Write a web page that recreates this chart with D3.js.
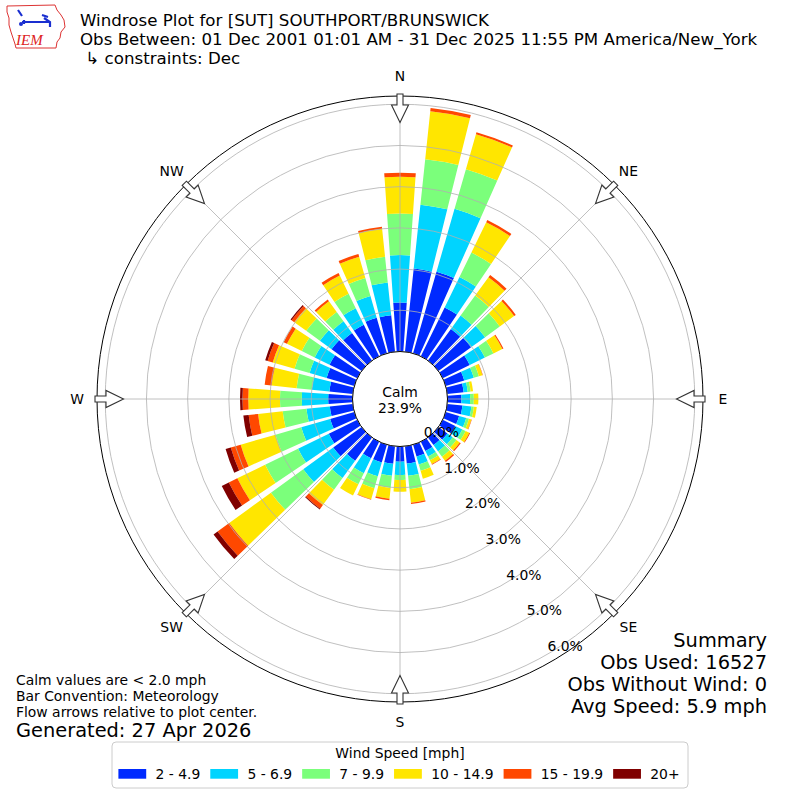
<!DOCTYPE html>
<html><head><meta charset="utf-8">
<script src="https://cdn.jsdelivr.net/npm/d3@7"></script>
<style>
body{margin:0;background:#fff;}
text{font-family:"DejaVu Sans",sans-serif;fill:#000;white-space:pre;}
</style>
</head><body>
<svg id="chart" width="800" height="800"></svg>
<script>
// ---------------- data ----------------
const directions = [0,10,20,30,40,50,60,70,80,90,100,110,120,130,140,150,160,170,
                    180,190,200,210,220,230,240,250,260,270,280,290,300,310,320,330,340,350];
const speedBins = ["2 - 4.9","5 - 6.9","7 - 9.9","10 - 14.9","15 - 19.9","20+"];
const binColors = ["#002aff","#00d4ff","#7bff7b","#ffe600","#ff4800","#800000"];
// percent of observations per direction for each speed bin
const speed2to5   = [1.19,2.03,2.06,1.32,0.95,0.98,0.73,0.47,0.40,0.34,0.37,0.34,0.34,0.27,0.23,0.25,0.30,0.42,
                     0.37,0.43,0.45,0.45,0.70,0.85,0.77,0.61,0.56,0.59,0.57,0.70,0.75,0.90,0.83,0.85,0.90,0.89];
const speed5to7   = [1.15,1.56,1.59,0.82,0.40,0.42,0.41,0.24,0.10,0.21,0.22,0.18,0.19,0.16,0.19,0.15,0.20,0.30,
                     0.32,0.29,0.35,0.40,0.52,0.90,0.83,0.73,0.57,0.64,0.43,0.43,0.40,0.35,0.35,0.45,0.55,0.80];
const speed7to10  = [1.01,1.11,1.00,0.66,0.60,0.44,0.23,0.13,0.07,0.09,0.06,0.07,0.09,0.11,0.16,0.10,0.16,0.33,
                     0.12,0.30,0.30,0.30,0.35,0.97,0.89,0.65,0.58,0.53,0.37,0.38,0.35,0.41,0.28,0.39,0.45,0.63];
const speed10to15 = [0.89,1.17,0.88,0.82,0.55,0.43,0.24,0.09,0.06,0.11,0.07,0.06,0.10,0.10,0.12,0.10,0.20,0.33,
                     0.29,0.26,0.28,0.30,0.46,1.25,0.75,0.88,0.60,0.77,0.61,0.55,0.40,0.36,0.32,0.49,0.54,0.68];
const speed15to20 = [0.10,0.08,0.05,0.06,0.07,0.05,0.03,0.01,0.00,0.00,0.00,0.01,0.02,0.03,0.04,0.02,0.00,0.03,
                     0.00,0.04,0.01,0.00,0.11,0.35,0.23,0.25,0.23,0.14,0.17,0.13,0.09,0.08,0.05,0.07,0.07,0.05];
const speed20plus = [0,0,0,0,0,0,0,0,0,0,0,0,0,0,0,0,0,0,
                     0,0,0,0,0.02,0.12,0.19,0.13,0.13,0.06,0,0.06,0,0.03,0,0,0,0];
const radialTicks = [0,1,2,3,4,5,6];
const compass = [["N",0],["NE",45],["E",90],["SE",135],["S",180],["SW",225],["W",270],["NW",315]];
const calmPct = "23.9%";
const titleLines = ["Windrose Plot for [SUT] SOUTHPORT/BRUNSWICK",
  "Obs Between: 01 Dec 2001 01:01 AM - 31 Dec 2025 11:55 PM America/New_York",
  " \u21b3 constraints: Dec"];
const summaryLines = ["Summary","Obs Used: 16527","Obs Without Wind: 0","Avg Speed: 5.9 mph"];
const noteLines = ["Calm values are < 2.0 mph","Bar Convention: Meteorology","Flow arrows relative to plot center."];
const generatedText = "Generated: 27 Apr 2026";

// ---------------- layout ----------------
const svg = d3.select("#chart");
const cx = 400, cy = 399;
const rMaxPct = 6.2;
const r = d3.scaleLinear().domain([0, rMaxPct]).range([47.5, 303]);
const ang = d3.scaleLinear().domain([0, 360]).range([0, 2*Math.PI]);
const halfW = ang(4);

const series = [speed2to5, speed5to7, speed7to10, speed10to15, speed15to20, speed20plus];
const rows = directions.map((d,i)=>{const o={dir:d}; speedBins.forEach((b,j)=>o[b]=series[j][i]); return o;});
const stacked = d3.stack().keys(speedBins)(rows);

const g = svg.append("g").attr("transform",`translate(${cx},${cy})`);

// bars
const arc = d3.arc()
  .innerRadius(d=>r(d[0])).outerRadius(d=>r(d[1]))
  .startAngle(d=>ang(d.data.dir)-halfW).endAngle(d=>ang(d.data.dir)+halfW);
stacked.forEach((s,j)=>{
  g.append("g").selectAll("path").data(s.filter(d=>d[1]-d[0]>0)).join("path")
    .attr("d",arc).attr("fill",binColors[j]);
});

// grid
const grid = g.append("g").attr("fill","none").attr("stroke","#b0b0b0").attr("stroke-width",0.8);
grid.selectAll("circle").data(radialTicks).join("circle").attr("r",d=>r(d));
grid.selectAll("line").data(compass).join("line")
  .attr("x1",0).attr("y1",0)
  .attr("x2",d=>r(rMaxPct)*Math.sin(ang(d[1])))
  .attr("y2",d=>-r(rMaxPct)*Math.cos(ang(d[1])));

// outer spine
g.append("circle").attr("r",r(rMaxPct)).attr("fill","none").attr("stroke","#000").attr("stroke-width",1);

// calm circle
g.append("circle").attr("r",r(0)).attr("fill","#fff").attr("stroke","#000").attr("stroke-width",1);
g.append("text").attr("text-anchor","middle").attr("y",-2).attr("font-size",13.9).text("Calm");
g.append("text").attr("text-anchor","middle").attr("y",14).attr("font-size",13.9).text(calmPct);

// radial labels along bearing 150
const lab = ang(150);
g.append("g").selectAll("text").data(radialTicks).join("text")
  .attr("x",d=>r(d)*Math.sin(lab))
  .attr("y",d=>-r(d)*Math.cos(lab)-3.3)
  .attr("font-size",13.9)
  .text(d=>d.toFixed(1)+"%");

// compass labels
g.append("g").selectAll("text").data(compass).join("text")
  .attr("x",d=>323*Math.sin(ang(d[1])))
  .attr("y",d=>-323*Math.cos(ang(d[1])))
  .attr("text-anchor","middle").attr("dominant-baseline","central")
  .attr("font-size",13.9).text(d=>d[0]);

// flow arrows
const arrowShape = [[-3,305],[3,305],[3,294],[8.5,294],[0,276.5],[-8.5,294],[-3,294]];
g.append("g").selectAll("polygon").data(compass).join("polygon")
  .attr("points",d=>{const t=ang(d[1]);return arrowShape.map(([x,rr])=>
    [rr*Math.sin(t)+x*Math.cos(t), -rr*Math.cos(t)+x*Math.sin(t)].join(",")).join(" ");})
  .attr("fill","#fff").attr("stroke","#333").attr("stroke-width",1.1);

// titles
svg.append("g").selectAll("text").data(titleLines).join("text")
  .attr("x",80).attr("y",(d,i)=>25.5+i*19).attr("font-size",16.67).text(d=>d);

// summary
svg.append("g").selectAll("text").data(summaryLines).join("text")
  .attr("x",767).attr("y",(d,i)=>647+i*22).attr("text-anchor","end").attr("font-size",19.4).text(d=>d);

// notes
svg.append("g").selectAll("text").data(noteLines).join("text")
  .attr("x",16).attr("y",(d,i)=>685+i*16).attr("font-size",13.9).text(d=>d);
svg.append("text").attr("x",16).attr("y",737).attr("font-size",19.4).text(generatedText);

// legend
const lg = svg.append("g");
lg.append("rect").attr("x",112).attr("y",742).attr("width",576).attr("height",46).attr("rx",4)
  .attr("fill","#fff").attr("stroke","#cccccc").attr("stroke-width",1);
lg.append("text").attr("x",400).attr("y",757.5).attr("text-anchor","middle").attr("font-size",13.9).text("Wind Speed [mph]");
let lx = 118.4;
speedBins.forEach((b,j)=>{
  lg.append("rect").attr("x",lx).attr("y",769).attr("width",27.8).attr("height",9.7).attr("fill",binColors[j]);
  const t = lg.append("text").attr("x",lx+37.1).attr("y",779).attr("font-size",13.9).text(b);
  lx = lx + 37.1 + t.node().getComputedTextLength() + 10;
});

// logo
const logo = svg.append("g");
logo.append("path").attr("d","M7,6 L55,5 L57,10 L61,15 L64,20 L65,27 L61,32 L60,38 L57,42 L56,48 L16,48 L15,44 L13,38 L11,32 L9,25 L9,18 L7,12 Z")
  .attr("fill","#fff").attr("stroke","#d33").attr("stroke-width",1);
logo.append("path").attr("d","M22,22 L50,22 M24,20 L24,24 M44,18 L50,22 L50,27 M18,10 L22,16 M42,15 L48,17")
  .attr("stroke","#1a2fd0").attr("stroke-width",2.2).attr("fill","none");
logo.append("circle").attr("cx",21).attr("cy",24).attr("r",2).attr("fill","#1a2fd0");
logo.append("text").attr("x",16).attr("y",45).attr("font-size",15).attr("font-style","italic")
  .attr("font-family","Liberation Serif, serif").style("fill","#d22").style("font-family","Liberation Serif, serif").text("IEM");
</script>
</body></html>
